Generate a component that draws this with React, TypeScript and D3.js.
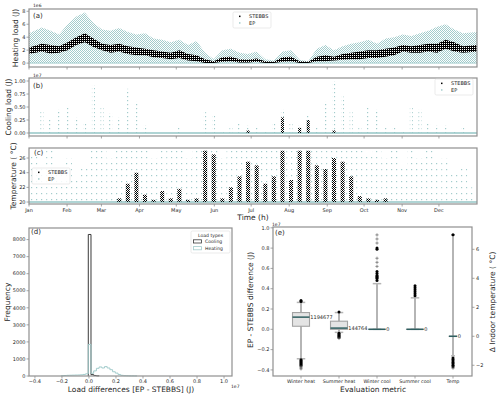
import React from 'react';
import * as d3 from 'd3';

// ---------------- data ----------------
const monthNames = ['Jan', 'Feb', 'Mar', 'Apr', 'May', 'Jun', 'Jul', 'Aug', 'Sep', 'Oct', 'Nov', 'Dec'];
const monthStarts = [0, 31, 59, 90, 120, 151, 181, 212, 243, 273, 304, 334];

// weekly heating load, 1e6 J (52 weeks)
const heatStebbsLo = [1.4, 1.8, 1.5, 1.6, 2.0, 2.8, 3.2, 2.5, 2.0, 1.6, 1.8, 1.4, 1.2, 1.2, 0.9, 0.8, 0.6, 0.8, 0.4, 0.3, 0.0, 0.0, 0.2, 0.3, 0.1, 0.1, 0.2, 0.0, 0.0, 0.2, 0.3, 0.0, 0.0, 0.3, 0.3, 0.4, 0.5, 0.6, 0.6, 0.8, 0.8, 1.0, 1.2, 1.8, 1.6, 1.6, 1.8, 1.6, 2.2, 1.8, 1.6, 1.8];
const heatStebbsHi = [2.4, 3.0, 2.8, 2.6, 3.2, 4.0, 4.6, 3.8, 3.0, 2.8, 3.0, 2.6, 2.4, 2.2, 2.0, 1.8, 1.6, 2.0, 1.4, 1.2, 0.6, 0.3, 0.9, 1.0, 0.6, 0.5, 0.7, 0.3, 0.2, 0.9, 1.0, 0.3, 0.2, 1.0, 1.2, 1.0, 1.4, 1.6, 1.8, 2.0, 2.0, 2.2, 2.4, 2.8, 2.6, 2.8, 3.0, 3.0, 3.6, 3.2, 2.6, 2.8];
const heatEpHi = [4.6, 5.5, 5.0, 4.4, 6.0, 7.2, 7.8, 6.2, 5.2, 5.0, 5.4, 4.8, 4.4, 4.6, 3.8, 3.6, 3.2, 3.6, 2.8, 3.4, 1.6, 0.6, 2.0, 2.2, 1.6, 1.4, 1.8, 0.6, 0.4, 1.8, 2.0, 0.5, 0.3, 2.2, 2.8, 2.0, 2.6, 3.0, 3.2, 3.6, 3.0, 3.8, 4.0, 4.4, 4.2, 4.6, 5.0, 5.6, 6.0, 5.2, 4.6, 4.8];

// weekly peak cooling load, 1e7 J
const coolEpMax = [0.35, 0.42, 0.25, 0.45, 0.5, 0.3, 0.2, 0.92, 0.5, 0.38, 0.3, 0.85, 0.6, 0.15, 0, 0, 0, 0.1, 0, 0, 0.4, 0.35, 0.05, 0.1, 0.2, 0.15, 0.1, 0.05, 0.2, 0.45, 0.2, 0.15, 0.35, 0.1, 0.6, 1.0, 0.7, 0.4, 0.1, 0.5, 0.45, 0.1, 0.1, 0.05, 0.5, 0.45, 0.2, 0.15, 0.15, 0.05, 0.1, 0];
const coolStebbsMax = [0, 0, 0, 0, 0, 0, 0, 0, 0, 0, 0, 0, 0, 0, 0, 0, 0, 0, 0, 0, 0, 0, 0, 0, 0, 0.05, 0, 0, 0, 0.3, 0, 0.1, 0.25, 0, 0, 0.05, 0, 0, 0, 0, 0, 0, 0, 0, 0, 0, 0, 0, 0, 0, 0, 0];

// weekly peak indoor temperature, degC
const tempEpMax = [26.5, 25, 27, 24, 26, 23, 25, 27, 27, 26, 27, 27, 27, 27, 26, 27, 27, 27, 26, 27, 27, 27, 26, 27, 27, 27, 27, 27, 27, 27, 27, 27, 27, 27, 27, 27, 27, 27, 27, 26.5, 27, 26, 27, 25, 27, 26, 27, 25.5, 26, 24, 25, 22];
const tempStebbsMax = [20, 20, 20, 20, 20, 20, 20, 20, 20, 20, 20.5, 22.5, 24, 21, 20.3, 21.5, 20.5, 21.8, 20.3, 20.5, 27, 26.5, 20.5, 22, 23.5, 25.5, 25, 22.5, 23.5, 27, 23, 27, 27, 25, 24.5, 26, 25.5, 23.5, 20.8, 20.5, 20.3, 20.5, 20, 20, 20, 20, 20, 20, 20, 20, 20, 20];

const heatTicks = [0, 2, 4, 6, 8];
const coolTicks = [0, 0.25, 0.5, 0.75, 1.0];
const tempTicks = [20, 22, 24, 26];

// histogram of load differences, 1e7 J
const heatBinEdges = [-0.205, -0.185, -0.165, -0.145, -0.125, -0.105, -0.085, -0.065, -0.045, -0.025, -0.005, 0.015, 0.035, 0.055, 0.075, 0.095, 0.115, 0.135, 0.155, 0.175, 0.195, 0.215, 0.235, 0.255, 0.275, 0.295, 0.315, 0.335, 0.355];
const heatCounts = [20, 30, 40, 45, 50, 55, 60, 70, 90, 130, 1850, 160, 300, 450, 530, 470, 550, 470, 370, 250, 170, 90, 40, 20, 15, 10, 8, 5];
const coolBinEdges = [-0.005, 0.015, 0.035, 0.055, 0.075];
const coolCounts = [8300, 80, 30, 10];
const histXTicks = [-0.4, -0.2, 0, 0.2, 0.4, 0.6, 0.8, 1.0];
const histYTicks = [0, 1000, 2000, 3000, 4000, 5000, 6000, 7000, 8000];

// box plots
const boxLabels = ['Winter heat', 'Summer heat', 'Winter cool', 'Summer cool', 'Temp'];
const boxQ1 = [0.03, 0.0, 0, 0, 0];
const boxMedian = [0.12, 0.012, 0, 0, 0];
const boxQ3 = [0.165, 0.08, 0, 0, 0];
const whiskerLo = [-0.29, -0.03, 0, 0, -1.35];
const whiskerHi = [0.265, 0.165, 0.45, 0.31, 7.0];
const medianText = ['1194677', '144764', '0', '0', '0'];
const outlierDots = [
  [0.275, 0.285, -0.3, -0.31, -0.32, -0.33, -0.34, -0.35, -0.36],
  [0.17, -0.04, -0.05, -0.06, -0.07, -0.08],
  [0.48, 0.5, 0.51, 0.52, 0.53, 0.55, 0.57, 0.79, 0.8],
  [0.33, 0.35, 0.37, 0.39, 0.41, 0.43],
  [-1.5, -1.6, -1.7, -1.8, -1.9, -2.0, -2.1, 7.0],
];
const outlierPlus = [
  [-0.37, -0.38, -0.39],
  [-0.09],
  [0.62, 0.66, 0.7, 0.85, 0.89, 0.93],
  [],
  [-2.2],
];
const boxLeftTicks = [-0.4, -0.2, 0, 0.2, 0.4, 0.6, 0.8, 1.0];
const boxRightTicks = [-2, 0, 2, 4, 6];

// ---------------- styling ----------------
const FONT = 'DejaVu Sans, sans-serif';
const spine = '#8f8f8f';
const ink = '#262626';
const teal = '#a3cccc';
const tealLine = '#95c6c6';
const fmtMinus = (s: string) => s.replace('-', '\u2212');

export default function App() {
  const xDay = d3.scaleLinear().domain([0, 365]).range([29, 477]);
  const yA = d3.scaleLinear().domain([-0.6, 8.35]).range([67, 9]);
  const yB = d3.scaleLinear().domain([-0.058, 1.058]).range([136, 78]);
  const yC = d3.scaleLinear().domain([19.73, 27.37]).range([204, 148]);
  const xD = d3.scaleLinear().domain([-0.444, 1.059]).range([29, 232]);
  const yD = d3.scaleLinear().domain([0, 8680]).range([376, 228]);
  const xE = d3.scaleLinear().domain([0.263, 5.5]).range([273, 472]);
  const yL = d3.scaleLinear().domain([-0.46, 1.008]).range([376, 227]);
  const yR = d3.scaleLinear().domain([-2.74, 7.54]).range([376, 227]);

  const weeks = d3.range(heatEpHi.length);
  const weekDay = (i: number) => (i === 0 ? 0 : i === weeks.length - 1 ? 365 : i * 7 + 3.5);

  const epHeatArea = d3.area<number>().x(i => xDay(weekDay(i))).y0(yA(0)).y1(i => yA(heatEpHi[i]));
  const stHeatArea = d3.area<number>().x(i => xDay(weekDay(i))).y0(i => yA(heatStebbsLo[i])).y1(i => yA(heatStebbsHi[i]));

  const stepPts = (edges: number[], counts: number[]) => {
    const pts: [number, number][] = [[edges[0], 0]];
    counts.forEach((c, i) => { pts.push([edges[i], c]); pts.push([edges[i + 1], c]); });
    pts.push([edges[edges.length - 1], 0]);
    return pts;
  };
  const histLine = d3.line<[number, number]>().x(p => xD(p[0])).y(p => yD(p[1]));

  const leftTicks = (scale: any, ticks: number[], x0: number, fmt: (v: number) => string) =>
    ticks.map(t => (
      <g key={'l' + t}>
        <line x1={x0 - 2.5} x2={x0} y1={scale(t)} y2={scale(t)} stroke={spine} strokeWidth={0.8} />
        <text x={x0 - 3.5} y={scale(t)} dy="0.35em" textAnchor="end" fontSize={5} fill={ink}>{fmt(t)}</text>
      </g>
    ));

  const monthTicks = (yBottom: number, labels: boolean) =>
    monthStarts.map((d, i) => (
      <g key={'m' + i}>
        <line x1={xDay(d)} x2={xDay(d)} y1={yBottom} y2={yBottom + 2.5} stroke={spine} strokeWidth={0.8} />
        {labels && <text x={xDay(d)} y={yBottom + 8} textAnchor="middle" fontSize={5} fill={ink}>{monthNames[i]}</text>}
      </g>
    ));

  const frame = (x0: number, x1: number, y0: number, y1: number) => (
    <rect x={x0} y={y0} width={x1 - x0} height={y1 - y0} fill="none" stroke={spine} strokeWidth={1.2} />
  );

  const legend = (x: number, y: number) => (
    <g>
      <rect x={x} y={y} width={38} height={16} rx={1.5} fill="white" fillOpacity={0.85} stroke="#dddddd" strokeWidth={0.6} />
      <rect x={x + 6} y={y + 3.6} width={1.5} height={1.5} fill="black" />
      <text x={x + 16} y={y + 4.4} dy="0.35em" fontSize={5} fill={ink}>STEBBS</text>
      <rect x={x + 6} y={y + 10.2} width={1.5} height={1.5} fill={teal} />
      <text x={x + 16} y={y + 11} dy="0.35em" fontSize={5} fill={ink}>EP</text>
    </g>
  );

  const plus = (cx: number, cy: number, k: string) => (
    <path key={k} d={`M${cx - 1.6},${cy}H${cx + 1.6}M${cx},${cy - 1.6}V${cy + 1.6}`} stroke="#666" strokeWidth={0.7} />
  );

  return (
    <svg width={500} height={397} style={{ position: 'absolute', left: 0, top: 0, background: 'white' }} fontFamily={FONT}>
      <defs>
        <pattern id="stDense" width={2} height={2} patternUnits="userSpaceOnUse">
          <rect x={0} y={0} width={2} height={1} fill="black" />
          <rect x={1} y={1} width={1} height={1} fill="black" />
        </pattern>
        <pattern id="stMid" width={2} height={2} patternUnits="userSpaceOnUse">
          <rect x={0} y={0} width={1} height={1} fill="black" />
          <rect x={1} y={1} width={1} height={1} fill="black" />
        </pattern>
        <pattern id="epDense" width={2} height={2} patternUnits="userSpaceOnUse">
          <rect x={0} y={0} width={1} height={1} fill={teal} />
          <rect x={1} y={1} width={1} height={1} fill={teal} />
        </pattern>
        <pattern id="epSparse" width={3} height={4} patternUnits="userSpaceOnUse">
          <rect x={1} y={0} width={1.2} height={1.2} fill={teal} />
        </pattern>
        <pattern id="epSparseC" width={5} height={6} patternUnits="userSpaceOnUse">
          <rect x={1} y={1} width={1.2} height={1.2} fill={teal} />
        </pattern>
        <clipPath id="clipA"><rect x={29} y={9} width={448} height={58} /></clipPath>
        <clipPath id="clipB"><rect x={29} y={78} width={448} height={58} /></clipPath>
        <clipPath id="clipC"><rect x={29} y={148} width={448} height={56} /></clipPath>
      </defs>

      {/* ---------- (a) heating load ---------- */}
      <g clipPath="url(#clipA)">
        <path d={epHeatArea(weeks) || ''} fill="url(#epDense)" />
        <line x1={29} x2={477} y1={yA(0)} y2={yA(0)} stroke={tealLine} strokeWidth={0.8} />
        <path d={stHeatArea(weeks) || ''} fill="url(#stDense)" />
      </g>
      {frame(29, 477, 9, 67)}
      {leftTicks(yA, heatTicks, 29, v => String(v))}
      {monthTicks(67, false)}
      <text x={33} y={7} fontSize={4.5} fill={ink}>1e6</text>
      <text x={33} y={15.5} dy="0.35em" fontSize={7} fill={ink}>(a)</text>
      <text transform="translate(15,38) rotate(-90)" textAnchor="middle" dy="0.35em" fontSize={7.5} fill={ink}>Heating load (J)</text>
      {legend(233, 12)}

      {/* ---------- (b) cooling load ---------- */}
      <g clipPath="url(#clipB)">
        {weeks.map(i => coolEpMax[i] > 0 && (
          <rect key={'be' + i} x={xDay(weekDay(i)) - 1.5} width={3} y={yB(coolEpMax[i])} height={yB(0) - yB(coolEpMax[i])} fill="url(#epSparse)" />
        ))}
        <line x1={29} x2={477} y1={yB(0)} y2={yB(0)} stroke={tealLine} strokeWidth={1.4} />
        {weeks.map(i => coolStebbsMax[i] > 0 && (
          <rect key={'bs' + i} x={xDay(weekDay(i)) - 1.5} width={3} y={yB(coolStebbsMax[i])} height={yB(0) - yB(coolStebbsMax[i])} fill="url(#stMid)" />
        ))}
      </g>
      {frame(29, 477, 78, 136)}
      {leftTicks(yB, coolTicks, 29, v => v.toFixed(2))}
      {monthTicks(136, false)}
      <text x={33} y={77} fontSize={4.5} fill={ink}>1e7</text>
      <text x={33} y={86} dy="0.35em" fontSize={7} fill={ink}>(b)</text>
      <text transform="translate(8,107) rotate(-90)" textAnchor="middle" dy="0.35em" fontSize={7.5} fill={ink}>Cooling load (J)</text>
      {legend(435, 79)}

      {/* ---------- (c) temperature ---------- */}
      <g clipPath="url(#clipC)">
        {weeks.map(i => (
          <rect key={'ce' + i} x={xDay(i * 7)} width={7 * (xDay(1) - xDay(0))} y={yC(tempEpMax[i])} height={yC(20) - yC(tempEpMax[i])} fill="url(#epSparseC)" />
        ))}
        <line x1={29} x2={477} y1={yC(20)} y2={yC(20)} stroke={tealLine} strokeWidth={1.4} />
        {weeks.map(i => tempStebbsMax[i] > 20.1 && (
          <rect key={'cs' + i} x={xDay(weekDay(i)) - 2} width={4} y={yC(tempStebbsMax[i])} height={yC(20) - yC(tempStebbsMax[i])} fill="url(#stMid)" />
        ))}
      </g>
      {frame(29, 477, 148, 204)}
      {leftTicks(yC, tempTicks, 29, v => String(v))}
      {monthTicks(204, true)}
      <text x={34} y={153} dy="0.35em" fontSize={7} fill={ink}>(c)</text>
      <text transform="translate(13,176) rotate(-90)" textAnchor="middle" dy="0.35em" fontSize={7.5} fill={ink}>Temperature ( °C)</text>
      <text x={253} y={220} textAnchor="middle" fontSize={7.5} fill={ink}>Time (h)</text>
      {legend(32, 168)}

      {/* ---------- (d) histogram ---------- */}
      <path d={histLine(stepPts(coolBinEdges, coolCounts)) || ''} fill="none" stroke="#3a3a3a" strokeWidth={1} />
      <path d={histLine(stepPts(heatBinEdges, heatCounts)) || ''} fill="none" stroke={teal} strokeWidth={1} />
      {frame(29, 232, 228, 376)}
      {leftTicks(yD, histYTicks, 29, v => String(v))}
      {histXTicks.map(t => (
        <g key={'dx' + t}>
          <line x1={xD(t)} x2={xD(t)} y1={376} y2={378.5} stroke={spine} strokeWidth={0.8} />
          <text x={xD(t)} y={383} textAnchor="middle" fontSize={5} fill={ink}>{fmtMinus(t.toFixed(1))}</text>
        </g>
      ))}
      <text x={231} y={388} fontSize={4.5} fill={ink}>1e7</text>
      <text x={31} y={231.5} dy="0.35em" fontSize={7} fill={ink}>(d)</text>
      <text transform="translate(7,302) rotate(-90)" textAnchor="middle" dy="0.35em" fontSize={7.5} fill={ink}>Frequency</text>
      <text x={131} y={392} textAnchor="middle" fontSize={7.5} fill={ink}>Load differences [EP - STEBBS] (J)</text>
      <g>
        <rect x={191} y={231} width={39} height={22} rx={1.5} fill="white" stroke="#dddddd" strokeWidth={0.6} />
        <text x={210.5} y={235} dy="0.35em" textAnchor="middle" fontSize={4.6} fill={ink}>Load types</text>
        <rect x={193.5} y={239.8} width={8} height={3.2} fill="white" stroke="#3a3a3a" strokeWidth={0.8} />
        <text x={205} y={241.4} dy="0.35em" fontSize={4.6} fill={ink}>Cooling</text>
        <rect x={193.5} y={246.6} width={8} height={3.2} fill="white" stroke={teal} strokeWidth={0.8} />
        <text x={205} y={248.2} dy="0.35em" fontSize={4.6} fill={ink}>Heating</text>
      </g>

      {/* ---------- (e) box plots ---------- */}
      {boxLabels.map((lab, i) => {
        const ys = i === 4 ? yR : yL;
        const cx = xE(i + 1);
        const hw = i === 4 ? 4 : 8.5;
        return (
          <g key={'box' + i}>
            <line x1={cx} x2={cx} y1={ys(whiskerLo[i])} y2={ys(whiskerHi[i])} stroke="#b5b5b5" strokeWidth={2} />
            <line x1={cx - hw / 2} x2={cx + hw / 2} y1={ys(whiskerLo[i])} y2={ys(whiskerLo[i])} stroke="#b5b5b5" strokeWidth={1.5} />
            <line x1={cx - hw / 2} x2={cx + hw / 2} y1={ys(whiskerHi[i])} y2={ys(whiskerHi[i])} stroke="#b5b5b5" strokeWidth={1.5} />
            <rect x={cx - hw} width={hw * 2} y={ys(boxQ3[i])} height={Math.max(0.01, ys(boxQ1[i]) - ys(boxQ3[i]))} fill="#e4e4e4" stroke="#a3a3a3" strokeWidth={1.1} />
            <line x1={cx - hw} x2={cx + hw} y1={ys(boxMedian[i])} y2={ys(boxMedian[i])} stroke="#2f5f60" strokeWidth={1.5} />
            {outlierDots[i].map((v, j) => <circle key={'o' + j} cx={cx} cy={ys(v)} r={1.5} fill="black" />)}
            {outlierPlus[i].map((v, j) => plus(cx, ys(v), 'p' + j))}
            <text x={cx + hw + 0.8} y={ys(boxMedian[i])} dy="0.35em" fontSize={5} fill={ink}>{medianText[i]}</text>
            <line x1={cx} x2={cx} y1={376} y2={378.5} stroke={spine} strokeWidth={0.8} />
            <text x={cx} y={383} textAnchor="middle" fontSize={4.8} fill={ink}>{lab}</text>
          </g>
        );
      })}
      {frame(273, 472, 227, 376)}
      {leftTicks(yL, boxLeftTicks, 273, v => fmtMinus(v.toFixed(1)))}
      {boxRightTicks.map(t => (
        <g key={'r' + t}>
          <line x1={472} x2={474.5} y1={yR(t)} y2={yR(t)} stroke={spine} strokeWidth={0.8} />
          <text x={476} y={yR(t)} dy="0.35em" fontSize={5} fill={ink}>{fmtMinus(String(t))}</text>
        </g>
      ))}
      <text x={272} y={226} fontSize={4.5} fill={ink}>1e7</text>
      <text x={275} y={232.5} dy="0.35em" fontSize={7} fill={ink}>(e)</text>
      <text transform="translate(250,300) rotate(-90)" textAnchor="middle" dy="0.35em" fontSize={7.5} fill={ink}>EP - STEBBS difference (J)</text>
      <text transform="translate(492,302) rotate(-90)" textAnchor="middle" dy="0.35em" fontSize={7.5} fill={ink}>Δ Indoor temperature ( °C)</text>
      <text x={373} y={392} textAnchor="middle" fontSize={7.5} fill={ink}>Evaluation metric</text>
    </svg>
  );
}
